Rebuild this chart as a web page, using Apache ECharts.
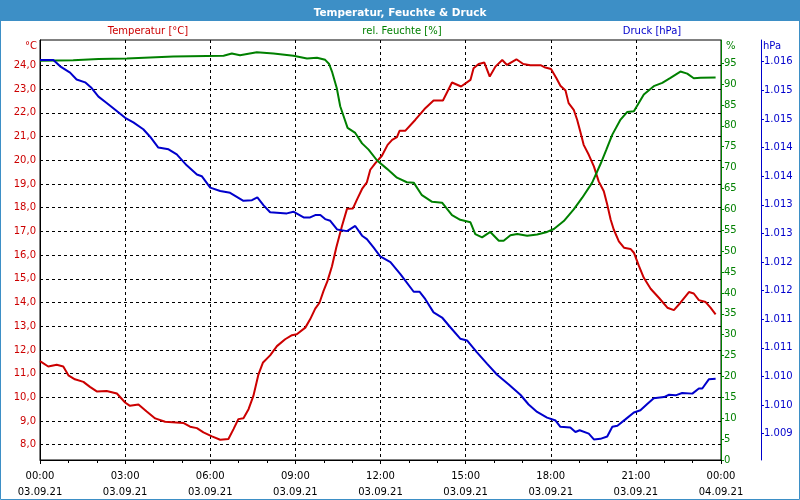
<!DOCTYPE html>
<html>
<head>
<meta charset="utf-8">
<script src="https://cdn.jsdelivr.net/npm/echarts@6/dist/echarts.min.js"></script>
<style>
html,body{margin:0;padding:0;background:#fff;}
#chart{width:800px;height:500px;}
</style>
</head>
<body>
<div id="chart"></div>
<script>
// ---- data (hours since 03.09.21 00:00) ----
const tempTime = [0,0.29,0.59,0.82,1.00,1.23,1.53,1.76,2.00,2.35,2.71,3.00,3.17,3.47,3.76,4.06,4.41,5.05,5.29,5.53,5.76,6.06,6.35,6.64,6.82,6.99,7.17,7.35,7.52,7.70,7.86,8.11,8.35,8.64,8.88,9.05,9.35,9.52,9.70,9.85,9.99,10.13,10.29,10.44,10.64,10.82,11.03,11.17,11.35,11.52,11.64,11.82,12.05,12.25,12.41,12.58,12.67,12.87,13.23,13.55,13.87,14.20,14.52,14.84,15.17,15.28,15.46,15.66,15.85,16.05,16.29,16.46,16.79,17.03,17.28,17.64,17.81,18.01,18.20,18.34,18.52,18.63,18.81,18.93,19.05,19.16,19.34,19.52,19.69,19.87,19.99,20.11,20.22,20.40,20.58,20.81,20.93,21.11,21.28,21.52,21.81,22.11,22.34,22.57,22.87,23.04,23.22,23.46,23.63,23.81];
const tempValues = [11.53,11.30,11.37,11.30,10.93,10.76,10.65,10.44,10.25,10.27,10.16,9.78,9.64,9.70,9.40,9.11,8.97,8.92,8.76,8.70,8.52,8.35,8.21,8.24,8.66,9.08,9.12,9.50,10.06,10.97,11.47,11.77,12.16,12.45,12.62,12.66,12.94,13.29,13.74,13.99,14.48,14.90,15.53,16.31,17.22,17.95,17.97,18.34,18.79,19.07,19.60,19.88,20.19,20.65,20.86,20.98,21.24,21.24,21.71,22.16,22.52,22.52,23.28,23.11,23.39,23.88,24.06,24.12,23.53,23.95,24.23,24.02,24.26,24.06,24.01,24.01,23.91,23.85,23.46,23.14,22.94,22.41,22.13,21.71,21.17,20.65,20.23,19.74,19.11,18.69,18.13,17.50,17.08,16.58,16.31,16.26,16.10,15.53,15.04,14.58,14.20,13.78,13.68,13.99,14.44,14.38,14.10,14.02,13.78,13.50];

const humTime = [0,1.17,2.06,3.06,4.70,6.47,6.76,7.05,7.64,8.23,8.93,9.41,9.76,10.05,10.19,10.29,10.46,10.58,10.70,10.84,11.11,11.35,11.58,11.88,12.23,12.58,12.93,13.17,13.46,13.82,14.17,14.52,14.81,15.17,15.34,15.58,15.87,16.17,16.34,16.58,16.82,17.17,17.52,17.87,18.11,18.46,18.81,19.11,19.46,19.75,19.96,20.17,20.46,20.69,20.93,21.28,21.63,21.93,22.22,22.57,22.81,23.04,23.28,23.81];
const humValues = [95.6,95.7,96.0,96.1,96.6,96.8,97.3,96.9,97.6,97.3,96.8,96.1,96.3,95.8,94.8,93.0,89.0,84.7,82.3,79.5,78.3,75.8,74.3,71.7,69.7,67.6,66.5,66.4,63.4,61.8,61.6,58.6,57.5,56.9,54.1,53.3,54.6,52.5,52.5,53.8,54.1,53.7,54.0,54.6,55.3,57.2,60.0,62.8,66.4,70.8,74.3,77.9,81.5,83.3,83.5,87.5,89.5,90.3,91.5,93.0,92.5,91.4,91.5,91.6];

const pressTime = [0,0.47,0.71,1.06,1.29,1.59,1.82,2.06,2.35,2.65,3.00,3.29,3.64,3.88,4.17,4.53,4.82,5.17,5.53,5.70,6.00,6.35,6.70,7.17,7.47,7.66,7.88,8.11,8.70,8.93,9.29,9.52,9.70,9.88,10.05,10.23,10.47,10.82,11.11,11.35,11.52,11.76,11.99,12.35,12.70,13.17,13.38,13.58,13.87,14.17,14.46,14.81,15.05,15.40,15.76,16.11,16.52,16.93,17.22,17.52,17.87,18.17,18.34,18.69,18.87,19.02,19.34,19.52,19.75,19.99,20.17,20.35,20.63,20.93,21.16,21.40,21.63,21.99,22.17,22.40,22.63,22.99,23.22,23.34,23.57,23.81];
const pressValues = [1015.63,1015.63,1015.52,1015.41,1015.29,1015.24,1015.14,1014.99,1014.88,1014.76,1014.62,1014.54,1014.42,1014.29,1014.10,1014.07,1013.98,1013.79,1013.63,1013.60,1013.40,1013.34,1013.31,1013.17,1013.18,1013.23,1013.09,1012.97,1012.95,1012.98,1012.88,1012.88,1012.92,1012.92,1012.85,1012.82,1012.67,1012.64,1012.73,1012.56,1012.50,1012.35,1012.20,1012.10,1011.89,1011.58,1011.58,1011.45,1011.22,1011.13,1010.96,1010.76,1010.73,1010.52,1010.32,1010.13,1009.96,1009.78,1009.61,1009.48,1009.38,1009.33,1009.22,1009.21,1009.13,1009.16,1009.10,1009.00,1009.01,1009.05,1009.22,1009.24,1009.35,1009.47,1009.51,1009.62,1009.72,1009.74,1009.78,1009.77,1009.81,1009.80,1009.89,1009.89,1010.05,1010.06];

const tempTicks = [8,9,10,11,12,13,14,15,16,17,18,19,20,21,22,23,24];
const humTicks = [0,5,10,15,20,25,30,35,40,45,50,55,60,65,70,75,80,85,90,95];
const pressTicks = [1009.1,1009.6,1010.1,1010.6,1011.1,1011.6,1012.1,1012.6,1013.1,1013.6,1014.1,1014.6,1015.1,1015.6];
const timeLabels = ['00:00','03:00','06:00','09:00','12:00','15:00','18:00','21:00','00:00'];
const dateLabels = ['03.09.21','03.09.21','03.09.21','03.09.21','03.09.21','03.09.21','03.09.21','03.09.21','04.09.21'];

const RED = '#cc0000', GREEN = '#008000', BLUE = '#0000cc', FRAME = '#3d8fc6';
const FONT = 'DejaVu Sans';

function pairs(t, v) { return t.map((x, i) => [x, v[i]]); }
function fmtPress(v) {
  const r = Math.round(v);
  return Math.floor(r / 1000) + '.' + String(r % 1000).padStart(3, '0');
}

const chart = echarts.init(document.getElementById('chart'), null, {renderer: 'canvas'});
chart.setOption({
  animation: false,
  backgroundColor: '#ffffff',
  textStyle: {fontFamily: FONT},
  title: {
    text: 'Temperatur, Feuchte & Druck',
    left: 'center', top: 3,
    textStyle: {color: '#ffffff', fontSize: 10.5, fontWeight: 'bold', fontFamily: FONT}
  },
  graphic: [
    {type: 'rect', z: -10, shape: {x: 0, y: 0, width: 800, height: 21}, style: {fill: FRAME}},
    {type: 'rect', z: -10, shape: {x: 0.5, y: 0.5, width: 799, height: 499}, style: {fill: null, stroke: FRAME, lineWidth: 1}},
    {type: 'text', x: 148, y: 31, style: {text: 'Temperatur [°C]', fill: RED, font: '10px "DejaVu Sans"', textAlign: 'center', textVerticalAlign: 'middle'}},
    {type: 'text', x: 402, y: 31, style: {text: 'rel. Feuchte [%]', fill: GREEN, font: '10px "DejaVu Sans"', textAlign: 'center', textVerticalAlign: 'middle'}},
    {type: 'text', x: 652, y: 31, style: {text: 'Druck [hPa]', fill: BLUE, font: '10px "DejaVu Sans"', textAlign: 'center', textVerticalAlign: 'middle'}},
    {type: 'text', x: 37, y: 46, style: {text: '°C', fill: RED, font: '10px "DejaVu Sans"', textAlign: 'right', textVerticalAlign: 'middle'}},
    {type: 'text', x: 726, y: 46, style: {text: '%', fill: GREEN, font: '10px "DejaVu Sans"', textAlign: 'left', textVerticalAlign: 'middle'}},
    {type: 'text', x: 763, y: 46, style: {text: 'hPa', fill: BLUE, font: '10px "DejaVu Sans"', textAlign: 'left', textVerticalAlign: 'middle'}}
  ],
  grid: {left: 40, right: 79, top: 40, bottom: 39, show: true, borderColor: '#000', borderWidth: 1, backgroundColor: '#ffffff'},
  xAxis: {
    type: 'value', min: 0, max: 24, interval: 3,
    axisLine: {show: true, lineStyle: {color: '#000', width: 1}},
    axisTick: {show: true, length: 4, lineStyle: {color: '#000'}},
    minorTick: {show: true, splitNumber: 3, length: 3, lineStyle: {color: '#000'}},
    splitLine: {show: true, lineStyle: {color: '#000', type: [3, 3], width: 1}},
    axisLabel: {
      color: '#000', fontSize: 10, fontFamily: FONT, margin: 8, lineHeight: 16,
      formatter: v => { const i = Math.round(v / 3); return timeLabels[i] + '\n' + dateLabels[i]; }
    }
  },
  yAxis: [
    {
      type: 'value', position: 'left', min: 7.356, max: 25.073,
      axisLine: {show: true, lineStyle: {color: '#000', width: 1}},
      axisTick: {show: false, customValues: tempTicks},
      splitLine: {show: true, lineStyle: {color: '#000', type: [3, 3], width: 1}},
      axisLabel: {customValues: tempTicks, color: RED, fontSize: 10, fontFamily: FONT, margin: 4,
        formatter: v => v.toFixed(1).replace('.', ',')}
    },
    {
      type: 'value', position: 'right', min: 0, max: 100.55,
      axisLine: {show: true, onZero: false, lineStyle: {color: GREEN, width: 1}},
      axisTick: {show: true, length: 3, customValues: humTicks, lineStyle: {color: GREEN}},
      splitLine: {show: false},
      axisLabel: {customValues: humTicks, color: GREEN, fontSize: 10, fontFamily: FONT, margin: 3}
    },
    {
      type: 'value', position: 'right', offset: 40, min: 1008.64, max: 1015.98,
      axisLine: {show: true, onZero: false, lineStyle: {color: BLUE, width: 1}},
      axisTick: {show: true, length: 3, customValues: pressTicks, lineStyle: {color: BLUE}},
      splitLine: {show: false},
      axisLabel: {customValues: pressTicks, color: BLUE, fontSize: 10, fontFamily: FONT, margin: 3,
        formatter: fmtPress}
    }
  ],
  series: [
    {name: 'Temperatur [°C]', type: 'line', yAxisIndex: 0, data: pairs(tempTime, tempValues),
      showSymbol: false, lineStyle: {color: RED, width: 2}, itemStyle: {color: RED}, z: 3},
    {name: 'rel. Feuchte [%]', type: 'line', yAxisIndex: 1, data: pairs(humTime, humValues),
      showSymbol: false, lineStyle: {color: GREEN, width: 2}, itemStyle: {color: GREEN}, z: 4},
    {name: 'Druck [hPa]', type: 'line', yAxisIndex: 2, data: pairs(pressTime, pressValues),
      showSymbol: false, lineStyle: {color: BLUE, width: 2}, itemStyle: {color: BLUE}, z: 5}
  ]
});
</script>
</body>
</html>
